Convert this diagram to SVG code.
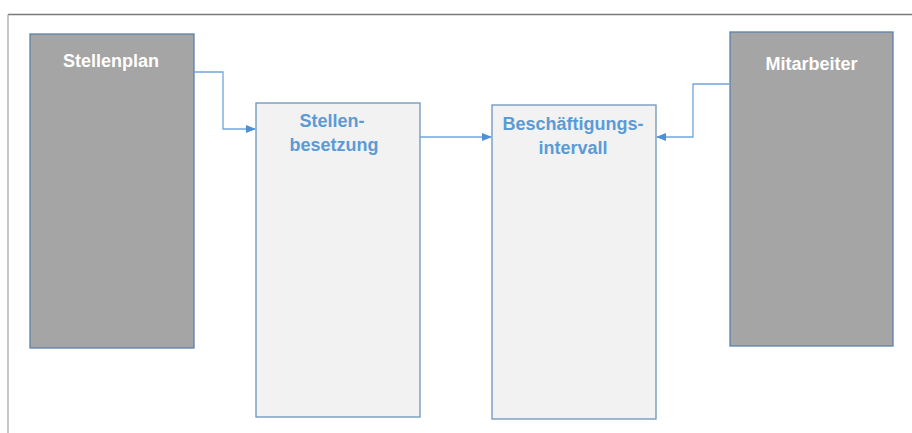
<svg xmlns="http://www.w3.org/2000/svg" width="912" height="433" viewBox="0 0 912 433">
<style>
.dark{fill:#a5a5a5;stroke:#5a82ad;stroke-width:1.3}
.light{fill:#f2f2f2;stroke:#6d94bb;stroke-width:1.3}
.t{font-family:"Liberation Sans",Arial,sans-serif;font-weight:bold;font-size:18px;text-anchor:middle}
.tw{fill:#ffffff}
.tb{fill:#5b9bd5}
.c{fill:none;stroke:#6fa6dc;stroke-width:1.3}
</style>
<defs>
<marker id="ah" markerWidth="10" markerHeight="8" refX="9" refY="4" orient="auto" markerUnits="userSpaceOnUse">
<path d="M0,0 L10,4 L0,8 Z" fill="#4f8fd3"/>
</marker>
</defs>
<rect width="912" height="433" fill="#ffffff"/>
<line x1="8" y1="14.5" x2="912" y2="14.5" stroke="#7a7a7a" stroke-width="1.3"/>
<line x1="8" y1="14.5" x2="8" y2="433" stroke="#aaaaaa" stroke-width="1.3"/>
<g id="stellenplan">
<rect class="dark" x="30" y="34" width="164" height="314"/>
<text class="t tw" x="111" y="67">Stellenplan</text>
</g>
<g id="stellenbesetzung">
<rect class="light" x="256" y="103" width="164" height="314"/>
<text class="t tb" x="332" y="127">Stellen-</text>
<text class="t tb" x="334" y="151">besetzung</text>
</g>
<g id="beschaeftigungsintervall">
<rect class="light" x="492" y="105" width="164" height="314"/>
<text class="t tb" x="573" y="130">Beschäftigungs-</text>
<text class="t tb" x="573" y="154">intervall</text>
</g>
<g id="mitarbeiter">
<rect class="dark" x="730" y="32" width="163" height="314"/>
<text class="t tw" x="811.5" y="70">Mitarbeiter</text>
</g>
<g id="connectors">
<polyline class="c" points="194,72 223,72 223,129 255,129" marker-end="url(#ah)"/>
<polyline class="c" points="420,137 491,137" marker-end="url(#ah)"/>
<polyline class="c" points="730,84 693,84 693,137 657,137" marker-end="url(#ah)"/>
</g>
</svg>
